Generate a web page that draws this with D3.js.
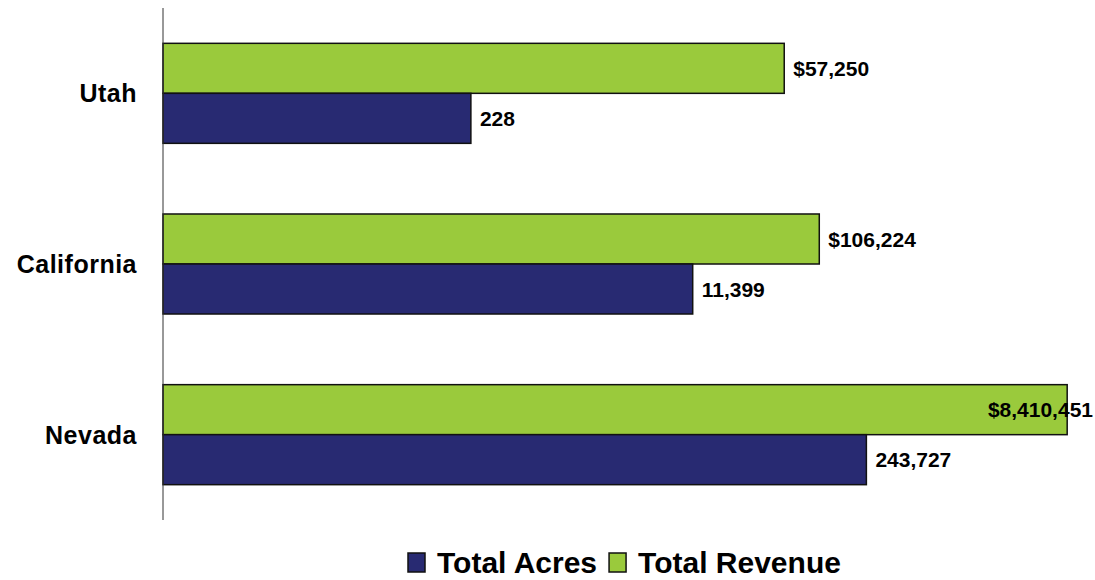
<!DOCTYPE html>
<html>
<head>
<meta charset="utf-8">
<script src="https://cdn.jsdelivr.net/npm/d3@7"></script>
<style>
  body { margin: 0; background: #fff; }
  text { font-family: "Liberation Sans", Arial, sans-serif; font-weight: bold; fill: #000; }
</style>
</head>
<body>
<div id="graph"></div>
<script>
// chart data
const states = ['Utah', 'California', 'Nevada']
const seriesNames = ['Total Revenue', 'Total Acres']
const acres = [228, 11399, 243727]
const revenue = [57250, 106224, 8410451]
const legendOrder = ['Total Acres', 'Total Revenue']

const total_width = 1095
const total_height = 580
const margins = { top: 8, left: 163, right: 18, bottom: 60 }
const width = total_width - margins.left - margins.right
const height = total_height - margins.top - margins.bottom

const color = d3.scaleOrdinal()
  .domain(['Total Acres', 'Total Revenue'])
  .range(['#282a72', '#9aca3c'])

const svg = d3.select('#graph').append('svg')
  .attr('width', total_width)
  .attr('height', total_height)

const g = svg.append('g')
  .attr('transform', `translate(${margins.left}, ${margins.top})`)

// the bars use a log scale (1 .. 10^7)
const x = d3.scaleLog().domain([1, 1e7]).range([0, width])
const y = d3.scaleBand().domain(states).range([0, height])
  .paddingInner(0.414).paddingOuter(0.207)
const sub = d3.scaleBand().domain(seriesNames).range([0, y.bandwidth()])

const rows = []
states.forEach((s, i) => {
  rows.push({ state: s, series: 'Total Revenue', value: revenue[i], label: '$' + d3.format(',')(revenue[i]) })
  rows.push({ state: s, series: 'Total Acres', value: acres[i], label: d3.format(',')(acres[i]) })
})

g.selectAll('.bar')
  .data(rows)
  .enter()
  .append('rect')
  .attr('class', 'bar')
  .attr('x', 0)
  .attr('y', d => y(d.state) + sub(d.series))
  .attr('width', d => x(d.value))
  .attr('height', sub.bandwidth())
  .attr('fill', d => color(d.series))
  .attr('stroke', '#111')
  .attr('stroke-width', 1.5)

// value labels, kept inside the picture
g.selectAll('.val')
  .data(rows)
  .enter()
  .append('text')
  .attr('class', 'val')
  .attr('y', d => y(d.state) + sub(d.series) + sub.bandwidth() / 2)
  .attr('dy', '0.36em')
  .style('font-size', '21px')
  .text(d => d.label)
  .attr('x', function (d) {
    let w = this.getComputedTextLength()
    let pos = x(d.value) + 9
    if (pos + w > width + margins.right - 2) pos = width + margins.right - 2 - w
    return pos
  })

// vertical axis line + category labels
const yAxis = g.append('g')
yAxis.append('line')
  .attr('x1', 0).attr('x2', 0)
  .attr('y1', 0).attr('y2', height)
  .attr('stroke', '#333')
  .attr('stroke-width', 1)

yAxis.selectAll('.cat')
  .data(states)
  .enter()
  .append('text')
  .attr('class', 'cat')
  .attr('x', -26)
  .attr('y', d => y(d) + y.bandwidth() / 2)
  .attr('dy', '0.36em')
  .attr('text-anchor', 'end')
  .style('font-size', '25px')
  .style('letter-spacing', '0.5px')
  .text(d => d)

// legend
const legend = svg.append('g').attr('transform', 'translate(408, 553)')
let lx = 0
legendOrder.forEach(name => {
  let item = legend.append('g').attr('transform', `translate(${lx}, 0)`)
  item.append('rect')
    .attr('width', 17).attr('height', 19)
    .attr('fill', color(name))
    .attr('stroke', '#111')
    .attr('stroke-width', 1.5)
  let t = item.append('text')
    .attr('x', 29)
    .attr('y', 20)
    .style('font-size', '30px')
    .text(name)
  lx += 29 + t.node().getComputedTextLength() + 12
})
</script>
</body>
</html>
